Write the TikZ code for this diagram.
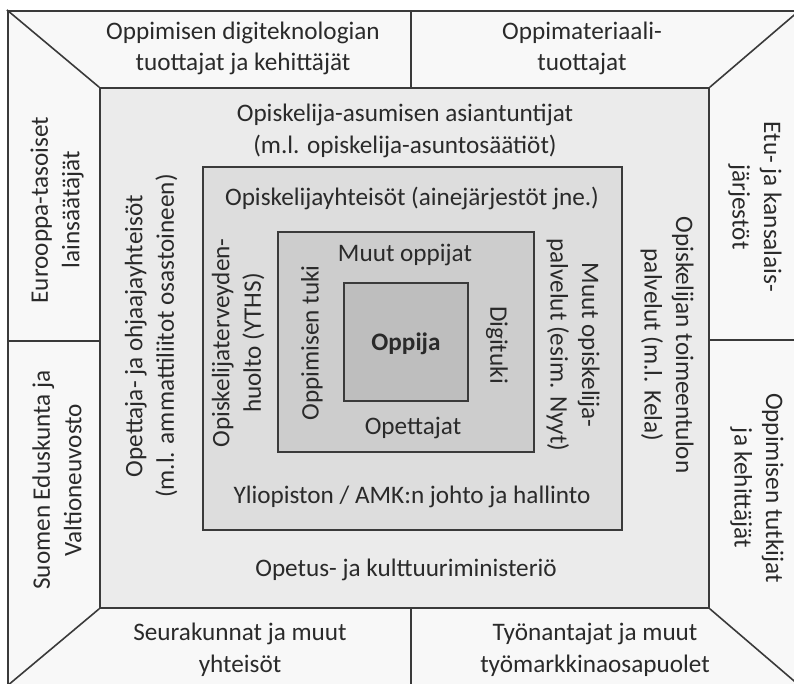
\documentclass[tikz,border=0pt]{standalone}
\usepackage{fontspec}
\setmainfont{Carlito}
\definecolor{c0}{HTML}{F8F8F8}
\definecolor{c1}{HTML}{EBEBEB}
\definecolor{c2}{HTML}{DDDDDD}
\definecolor{c3}{HTML}{CDCDCD}
\definecolor{c4}{HTML}{BEBEBE}
\definecolor{frame}{HTML}{3A3A3A}
\definecolor{txt}{HTML}{2A2A2A}
\tikzset{
  box/.style={draw=frame, line width=1.6pt, inner sep=0pt, anchor=center},
  lbl/.style={font=\fontsize{25.2}{31.5}\selectfont, text=txt, align=center, inner sep=0pt},
  rl/.style={lbl, rotate=90},
  rr/.style={lbl, rotate=-90},
  sep/.style={draw=frame, line width=1.6pt}
}
\begin{document}
\begin{tikzpicture}[x=1pt,y=-1pt]
\useasboundingbox (0,0) rectangle (794,683);
\fill[white] (0,0) rectangle (794,683);
% nested boxes
\node[box, fill=c0, line width=2.2pt, minimum width=791pt, minimum height=674pt] (outer) at (403.5,348) {};
\node[box, fill=c1, minimum width=609pt, minimum height=520pt] (mid) at (404.5,348) {};
\node[box, fill=c2, minimum width=419pt, minimum height=363pt] (ring) at (412.5,348.5) {};
\node[box, fill=c3, minimum width=256pt, minimum height=220pt] (inner) at (406,342) {};
\node[box, fill=c4, minimum width=124pt, minimum height=118pt] (core) at (406,342) {};
% diagonals
\draw[sep] (outer.north west) -- (mid.north west);
\draw[sep] (outer.north east) -- (mid.north east);
\draw[sep] (outer.south west) -- (mid.south west);
\draw[sep] (outer.south east) -- (mid.south east);
% dividers
\coordinate (dtop) at (411,11);
\coordinate (dbot) at (411,685);
\coordinate (dleft) at (8,341);
\coordinate (dright) at (799,340);
\draw[sep] (dtop) -- (dtop |- mid.north);
\draw[sep] (dbot) -- (dbot |- mid.south);
\draw[sep] (dleft) -- (dleft -| mid.west);
\draw[sep] (dright) -- (dright -| mid.east);
% outer labels
\node[lbl] (t1) at (243,48.5) {Oppimisen digiteknologian\\tuottajat ja kehittäjät};
\node[lbl] (t2) at (582,48.5) {Oppimateriaali-\\tuottajat};
\node[lbl] (b1) at (240,650) {Seurakunnat ja muut\\yhteisöt};
\node[lbl] (b2) at (595,650) {Työnantajat ja muut\\työmarkkinaosapuolet};
\node[rl] (l1) at (57,210) {Eurooppa-tasoiset\\lainsäätäjät};
\node[rl] (l2) at (57,480) {Suomen Eduskunta ja\\Valtioneuvosto};
\node[rr] (r1) at (755,207) {Etu- ja kansalais-\\järjestöt};
\node[rr] (r2) at (757,488) {Oppimisen tutkijat\\ja kehittäjät};
% middle labels
\node[lbl] (m1) at (405,131) {Opiskelija-asumisen asiantuntijat\\(m.l. opiskelija-asuntosäätiöt)};
\node[lbl] (m2) at (406,570) {Opetus- ja kulttuuriministeriö};
\node[rl] (m3) at (151,336) {Opettaja- ja ohjaajayhteisöt\\(m.l. ammattiliitot osastoineen)};
\node[rr] (m4) at (667,345) {Opiskelijan toimeentulon\\palvelut (m.l. Kela)};
% ring labels
\node[lbl] (g1) at (412,198) {Opiskelijayhteisöt (ainejärjestöt jne.)};
\node[lbl] (g2) at (412,497) {Yliopiston / AMK:n johto ja hallinto};
\node[rl] (g3) at (238,343) {Opiskelijaterveyden-\\huolto (YTHS)};
\node[rr] (g4) at (573,345) {Muut opiskelija-\\palvelut (esim. Nyyt)};
% inner labels
\node[lbl] (i1) at (405,255) {Muut oppijat};
\node[lbl] (i2) at (413,428) {Opettajat};
\node[rl] (i3) at (312,343) {Oppimisen tuki};
\node[rr] (i4) at (497,345) {Digituki};
\node[lbl, font=\fontsize{25.2}{31.5}\selectfont\bfseries] (core-l) at (406,344) {Oppija};
\end{tikzpicture}
\end{document}
